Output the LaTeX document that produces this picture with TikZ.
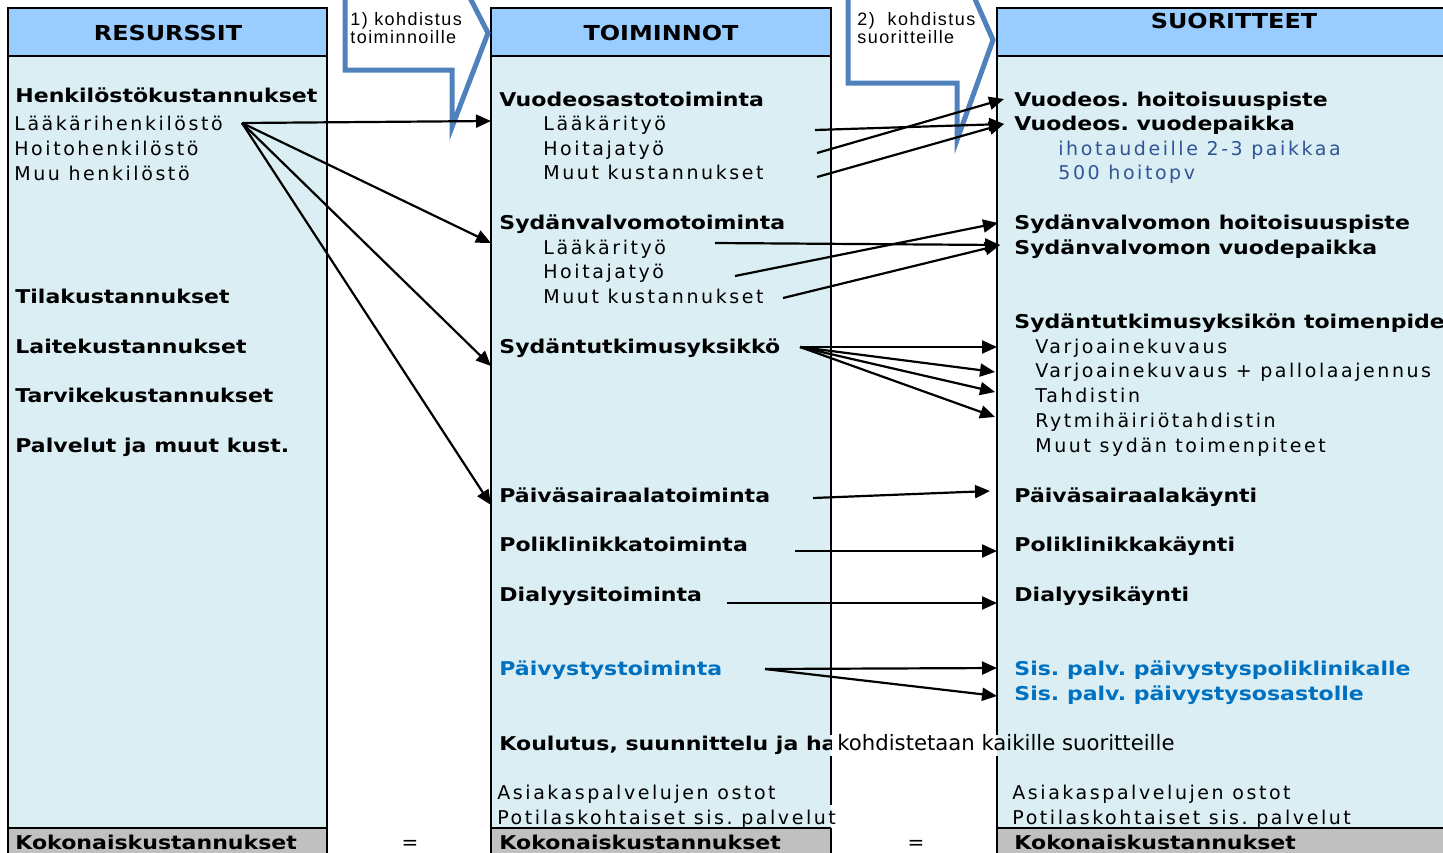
\documentclass[tikz,border=0pt]{standalone}
\usepackage{fontspec}
\setmainfont{DejaVu Sans}
\newfontfamily\rgfont{DejaVu Sans}[LetterSpace=13.5]
\newfontfamily\bdfont{DejaVu Sans}[FakeStretch=1.16]
\newfontfamily\callfont{Liberation Sans}[LetterSpace=8]
\usetikzlibrary{arrows.meta}
\definecolor{headblue}{HTML}{99CCFF}
\definecolor{bodyblue}{HTML}{DAEEF3}
\definecolor{totgray}{HTML}{C0C0C0}
\definecolor{callblue}{HTML}{4F81BD}
\definecolor{txtblue}{HTML}{0070C0}
\definecolor{darkblue}{HTML}{305496}
\frenchspacing

\begin{document}
\begin{tikzpicture}
  [x=0.5pt, y=-0.5pt,
   txt/.style={anchor=base west, inner sep=0pt, font=\fontsize{9.5}{12}\rgfont},
   bld/.style={anchor=base west, inner sep=0pt, font=\fontsize{9.5}{12}\bdfont\bfseries},
   hdr/.style={anchor=base, inner sep=0pt, font=\fontsize{10.3}{12}\bdfont\bfseries},
   calltxt/.style={anchor=base west, inner sep=0pt, font=\fontsize{9}{10}\callfont},
   colborder/.style={draw=black, line width=1pt},
   callout/.style={draw=callblue, line width=2.5pt, fill=white, line join=miter},
   conn/.style={draw=black, line width=1.1pt, -{Triangle[length=7.5pt, width=6.5pt]}}]
  \useasboundingbox (0,0) rectangle (1443,852);

  % column fills
  \fill[headblue] (8,8) rectangle (327,56) (491,8) rectangle (831,56) (997,8) rectangle (1450,56);
  \fill[bodyblue] (8,56) rectangle (327,828) (491,56) rectangle (831,828) (997,56) rectangle (1450,828);
  \fill[totgray] (8,828) rectangle (327,860) (491,828) rectangle (831,860) (997,828) rectangle (1450,860);

  % column borders (broken where text runs over)
  \draw[colborder] (8,860) -- (8,8) -- (327,8) -- (327,860) (8,56) -- (327,56) (8,828) -- (327,828);
  \draw[colborder] (491,860) -- (491,8) -- (831,8) -- (831,735) (831,756) -- (831,805) (831,828) -- (831,860)
    (491,56) -- (831,56) (491,828) -- (831,828);
  \draw[colborder] (997,735) -- (997,8) -- (1450,8) (997,756) -- (997,860)
    (997,56) -- (1450,56) (997,828) -- (1450,828);

  % callouts
  \draw[callout] (345,-10) -- (345,70) -- (452,70) -- (452,127) -- (488,33) -- (466,-10) -- cycle;
  \draw[callout] (848,-10) -- (848,83) -- (957,83) -- (957,140) -- (993,40) -- (971,-10) -- cycle;
  \node[calltxt] (call1a) at (350,25) {1) kohdistus};
  \node[calltxt] (call1b) at (350,43) {toiminnoille};
  \node[calltxt] (call2a) at (857,25) {2)~~kohdistus};
  \node[calltxt] (call2b) at (857,43) {suoritteille};

  % resurssit
  \node[hdr] (resHead) at (168,40) {RESURSSIT};
  \node[bld] (henk) at (15,102) {Henkilöstökustannukset};
  \node[txt] (laakHenk) at (14,130) {Lääkärihenkilöstö};
  \node[txt] (hoitoHenk) at (14,155) {Hoitohenkilöstö};
  \node[txt] (muuHenk) at (14,180) {Muu henkilöstö};
  \node[bld] (tila) at (15,303) {Tilakustannukset};
  \node[bld] (laite) at (15,353) {Laitekustannukset};
  \node[bld] (tarvike) at (15,402) {Tarvikekustannukset};
  \node[bld] (palv) at (15,452) {Palvelut ja muut kust.};
  \node[bld] (resTotal) at (15,849) {Kokonaiskustannukset};
  \node[anchor=base, font=\fontsize{10}{12}\selectfont] (eq1) at (410,849) {=};

  % toiminnot
  \node[hdr] (toimHead) at (661,40) {TOIMINNOT};
  \node[bld] (vuodeos) at (499,106) {Vuodeosastotoiminta};
  \node[txt] (vuodeosL) at (543,130) {Lääkärityö};
  \node[txt] (vuodeosH) at (543,155) {Hoitajatyö};
  \node[txt] (vuodeosM) at (543,179) {Muut kustannukset};
  \node[bld] (sydv) at (499,229) {Sydänvalvomotoiminta};
  \node[txt] (sydvL) at (543,254) {Lääkärityö};
  \node[txt] (sydvH) at (543,278) {Hoitajatyö};
  \node[txt] (sydvM) at (543,303) {Muut kustannukset};
  \node[bld] (sydt) at (499,353) {Sydäntutkimusyksikkö};
  \node[bld] (paivas) at (499,502) {Päiväsairaalatoiminta};
  \node[bld] (polik) at (499,551) {Poliklinikkatoiminta};
  \node[bld] (dialyysi) at (499,601) {Dialyysitoiminta};
  \node[bld, text=txtblue] (paivys) at (499,675) {Päivystystoiminta};
  \begin{scope}
    \clip (491,56) rectangle (831,828);
    \node[bld] (koulutus) at (499,750) {Koulutus, suunnittelu ja ha};
  \end{scope}
  \node[anchor=base west, inner sep=0pt, font=\fontsize{10.6}{12}\selectfont] (kohd) at (837,750) {kohdistetaan kaikille suoritteille};
  \node[txt] (asiak2) at (497,799) {Asiakaspalvelujen ostot};
  \node[txt] (potil2) at (497,824) {Potilaskohtaiset sis. palvelut};
  \node[bld] (toimTotal) at (499,849) {Kokonaiskustannukset};
  \node[anchor=base, font=\fontsize{10}{12}\selectfont] (eq2) at (916,849) {=};

  % suoritteet
  \node[hdr] (suorHead) at (1234,28) {SUORITTEET};
  \node[bld] (vhoit) at (1014,106) {Vuodeos. hoitoisuuspiste};
  \node[bld] (vpaik) at (1014,130) {Vuodeos. vuodepaikka};
  \node[txt, text=darkblue] (ihot) at (1058,155) {ihotaudeille 2-3 paikkaa};
  \node[txt, text=darkblue] (hoitopv) at (1058,179) {500 hoitopv};
  \node[bld] (svhoit) at (1014,229) {Sydänvalvomon hoitoisuuspiste};
  \node[bld] (svpaik) at (1014,254) {Sydänvalvomon vuodepaikka};
  \node[bld] (stoim) at (1014,328) {Sydäntutkimusyksikön toimenpide};
  \node[txt] (varj) at (1035,353) {Varjoainekuvaus};
  \node[txt] (varjp) at (1035,377) {Varjoainekuvaus + pallolaajennus};
  \node[txt] (tahd) at (1035,402) {Tahdistin};
  \node[txt] (rytmi) at (1035,427) {Rytmihäiriötahdistin};
  \node[txt] (muutsyd) at (1035,452) {Muut sydän toimenpiteet};
  \node[bld] (paivask) at (1014,502) {Päiväsairaalakäynti};
  \node[bld] (polikk) at (1014,551) {Poliklinikkakäynti};
  \node[bld] (dialk) at (1014,601) {Dialyysikäynti};
  \node[bld, text=txtblue] (sispol) at (1014,675) {Sis. palv. päivystyspoliklinikalle};
  \node[bld, text=txtblue] (sisos) at (1014,700) {Sis. palv. päivystysosastolle};
  \node[txt] (asiak3) at (1012,799) {Asiakaspalvelujen ostot};
  \node[txt] (potil3) at (1012,824) {Potilaskohtaiset sis. palvelut};
  \node[bld] (suorTotal) at (1014,849) {Kokonaiskustannukset};

  % connector ends
  \coordinate (lhOut) at (242,123);
  \coordinate (vuodeosIn) at (491,121);
  \coordinate (sydvIn) at (491,243);
  \coordinate (sydtIn) at (491,366);
  \coordinate (paivasIn) at (491,505);
  \coordinate (vLOut) at (815,130);
  \coordinate (vHOut) at (817,153);
  \coordinate (vMOut) at (817,177);
  \coordinate (vhoitIn) at (1004,99);
  \coordinate (vpaikIn) at (1004,124);
  \coordinate (sLOut) at (715,243);
  \coordinate (sHOut) at (735,276);
  \coordinate (sMOut) at (783,298);
  \coordinate (svhoitIn) at (998,223);
  \coordinate (svpaikIn) at (1000,245);
  \coordinate (sydtOut) at (800,347);
  \coordinate (varjIn) at (997,347);
  \coordinate (varjpIn) at (995,372);
  \coordinate (tahdIn) at (995,392);
  \coordinate (rytmiIn) at (995,417);
  \coordinate (paivasOut) at (813,498);
  \coordinate (paivaskIn) at (990,491);
  \coordinate (polikOut) at (795,551);
  \coordinate (polikkIn) at (997,551);
  \coordinate (dialOut) at (727,603);
  \coordinate (dialkIn) at (997,603);
  \coordinate (paivysOut) at (765,669);
  \coordinate (sispolIn) at (997,668);
  \coordinate (sisosIn) at (997,696);

  % 1) kohdistus toiminnoille
  \draw[conn] (lhOut) -- (vuodeosIn);
  \draw[conn] (lhOut) -- (sydvIn);
  \draw[conn] (lhOut) -- (sydtIn);
  \draw[conn] (lhOut) -- (paivasIn);
  % 2) kohdistus suoritteille
  \draw[conn] (vLOut) -- (vpaikIn);
  \draw[conn] (vHOut) -- (vhoitIn);
  \draw[conn] (vMOut) -- (vpaikIn);
  \draw[conn] (sLOut) -- (svpaikIn);
  \draw[conn] (sHOut) -- (svhoitIn);
  \draw[conn] (sMOut) -- (svpaikIn);
  \draw[conn] (sydtOut) -- (varjIn);
  \draw[conn] (sydtOut) -- (varjpIn);
  \draw[conn] (sydtOut) -- (tahdIn);
  \draw[conn] (sydtOut) -- (rytmiIn);
  \draw[conn] (paivasOut) -- (paivaskIn);
  \draw[conn] (polikOut) -- (polikkIn);
  \draw[conn] (dialOut) -- (dialkIn);
  \draw[conn] (paivysOut) -- (sispolIn);
  \draw[conn] (paivysOut) -- (sisosIn);
\end{tikzpicture}
\end{document}
